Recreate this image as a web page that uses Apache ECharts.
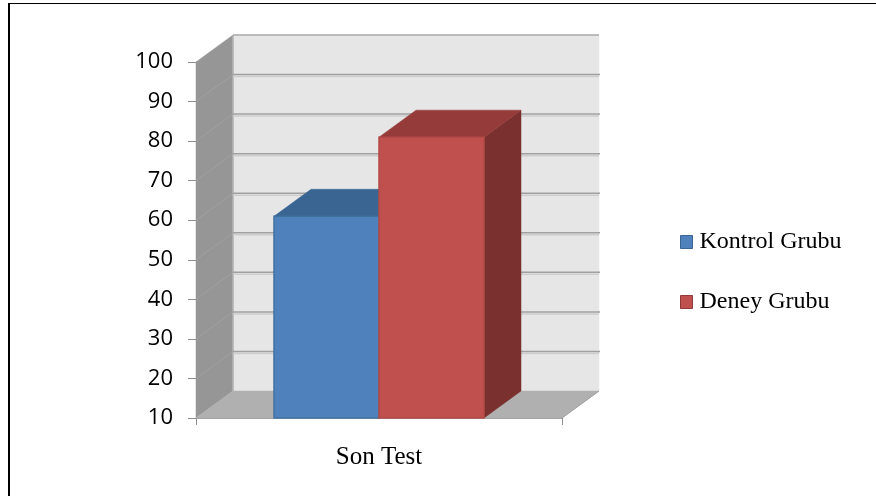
<!DOCTYPE html>
<html>
<head>
<meta charset="utf-8">
<style>html,body{margin:0;padding:0;background:#fff}#c{width:876px;height:496px}</style>
<script src="https://cdn.jsdelivr.net/npm/echarts@6/dist/echarts.min.js"></script>
</head>
<body>
<div id="c"></div>
<script>
var categories = ['Son Test'];
var tickValues = [10, 20, 30, 40, 50, 60, 70, 80, 90, 100];
var kontrolValues = [61];
var deneyValues = [81];
var DX = 37, DY = -27, BAR_W = 105;

function poly(points, fill, stroke) {
  return {type: 'polygon', shape: {points: points}, style: {fill: fill, stroke: stroke || fill, lineWidth: stroke ? 1.5 : 0.5}};
}
function line(a, b, color, w) {
  return {type: 'line', shape: {x1: a[0], y1: a[1], x2: b[0], y2: b[1]}, style: {stroke: color, lineWidth: w}};
}
function renderWalls(params, api) {
  var cs = params.coordSys;
  var v = api.value(0);
  var y = api.coord([0, v])[1];
  var l = cs.x, r = cs.x + cs.width, b = cs.y + cs.height;
  var kids = [];
  if (params.dataIndex === 0) {
    var t = cs.y;
    kids.push(poly([[l + DX, t + DY], [r + DX, t + DY], [r + DX, b + DY], [l + DX, b + DY]], '#E6E6E6'));
    kids.push(poly([[l, t], [l + DX, t + DY], [l + DX, b + DY], [l, b]], '#969696'));
    kids.push(poly([[l, b], [l + DX, b + DY], [r + DX, b + DY], [r, b]], '#B0B0B0'));
    kids.push(line([l + DX, b + DY], [l + DX, t + DY], '#B4B4B4', 1.5));
    kids.push(line([r, b], [r + DX, b + DY], '#A0A0A0', 1));
  } else if (v === 100) {
    kids.push(line([l + DX, y + DY], [r + DX, y + DY], '#A8A8A8', 1.5));
  } else {
    kids.push(line([l, y], [l + DX, y + DY], '#A0A0A0', 1));
    kids.push(line([l + DX, y + DY + 2], [r + DX, y + DY + 2], '#CDCDCD', 1.5));
    kids.push(line([l + DX, y + DY], [r + DX + 1, y + DY], '#A0A0A0', 1.5));
  }
  return {type: 'group', children: kids};
}
function bar3d(offset, front, top, side, edge) {
  return function (params, api) {
    var p = api.coord([api.value(0), api.value(1)]);
    var base = api.coord([api.value(0), 10]);
    var x0 = p[0] + offset * BAR_W, x1 = x0 + BAR_W;
    var yt = p[1], yb = base[1];
    return {type: 'group', children: [
      poly([[x1, yt], [x1 + DX, yt + DY], [x1 + DX, yb + DY], [x1, yb]], side),
      poly([[x0, yt], [x0 + DX, yt + DY], [x1 + DX, yt + DY], [x1, yt]], top),
      poly([[x0, yt], [x1, yt], [x1, yb], [x0, yb]], front, edge)
    ]};
  };
}
var serif = '"Liberation Serif"';
var chart = echarts.init(document.getElementById('c'), null, {renderer: 'canvas'});
chart.setOption({
  animation: false,
  backgroundColor: '#fff',
  graphic: [
    {type: 'line', silent: true, shape: {x1: 8, y1: 3.5, x2: 876, y2: 3.5}, style: {stroke: '#000', lineWidth: 1}},
    {type: 'line', silent: true, shape: {x1: 9, y1: 3, x2: 9, y2: 496}, style: {stroke: '#000', lineWidth: 2}}
  ],
  grid: {left: 196, right: 314, top: 62, bottom: 78},
  legend: {
    orient: 'vertical', left: 675, top: 225, itemWidth: 12, itemHeight: 13, itemGap: 36,
    icon: 'rect', textStyle: {fontFamily: serif, fontSize: 24, color: '#000', padding: [0, 0, 0, 2]},
    data: [
      {name: 'Kontrol Grubu', itemStyle: {color: '#4F81BD', borderColor: '#3A6491', borderWidth: 1}},
      {name: 'Deney Grubu', itemStyle: {color: '#C0504D', borderColor: '#8E3A38', borderWidth: 1}}
    ]
  },
  xAxis: {
    type: 'category', data: categories,
    axisLine: {lineStyle: {color: '#A0A0A0', width: 1}},
    axisTick: {show: true, alignWithLabel: false, length: 7, lineStyle: {color: '#8C8C8C'}},
    axisLabel: {fontFamily: serif, fontSize: 25, color: '#000', margin: 27}
  },
  yAxis: {
    type: 'value', min: 10, max: 100, interval: 10,
    splitLine: {show: false},
    axisLine: {show: true, lineStyle: {color: '#969696', width: 1}},
    axisTick: {show: true, length: 8, lineStyle: {color: '#8C8C8C', width: 1}},
    axisLabel: {fontFamily: '"Open Sans"', fontSize: 22, color: '#000', margin: 23, padding: [5, 0, 0, 0]}
  },
  series: [
    {type: 'custom', name: 'walls', silent: true, z: 1, coordinateSystem: 'cartesian2d', encode: {x: 1, y: 0},
     data: tickValues.map(function (v) { return [v, 0]; }), renderItem: renderWalls},
    {type: 'custom', name: 'Kontrol Grubu', z: 2, itemStyle: {color: '#4F81BD'}, encode: {x: 0, y: 1},
     data: categories.map(function (c, i) { return [i, kontrolValues[i]]; }),
     renderItem: bar3d(-1, '#4F81BD', '#3A6491', '#2F5076', '#41719F')},
    {type: 'custom', name: 'Deney Grubu', z: 3, itemStyle: {color: '#C0504D'}, encode: {x: 0, y: 1},
     data: categories.map(function (c, i) { return [i, deneyValues[i]]; }),
     renderItem: bar3d(0, '#C0504D', '#953B39', '#7A302E', '#B24B48')}
  ]
});
</script>
</body>
</html>
